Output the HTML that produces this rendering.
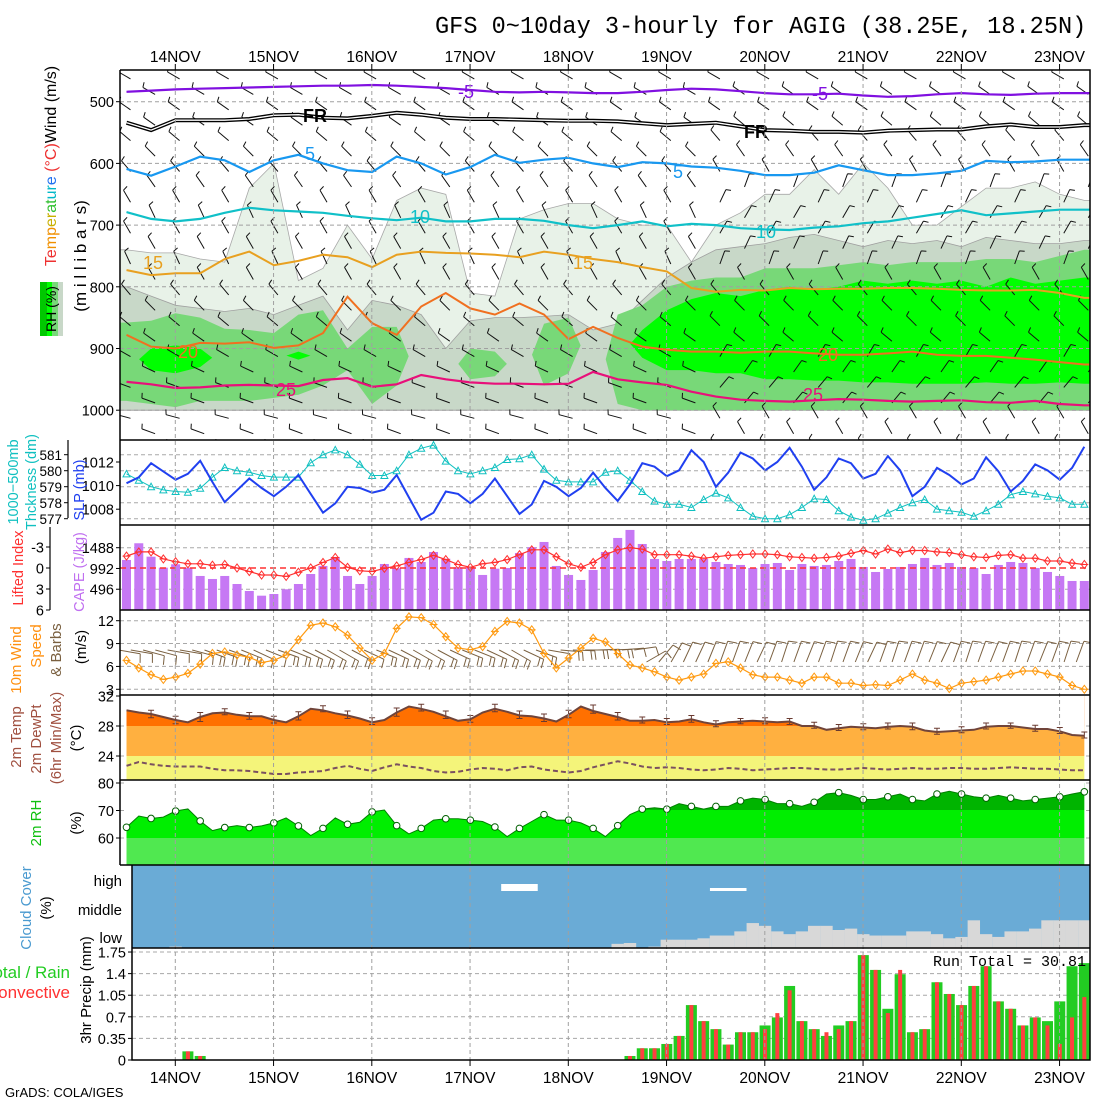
<!DOCTYPE html>
<html><head><meta charset="utf-8">
<style>
body{margin:0;background:#fff;width:1100px;height:1100px;overflow:hidden}
svg text{font-family:"Liberation Sans",sans-serif}
</style></head>
<body>
<svg id="chart" width="1100" height="1100" viewBox="0 0 1100 1100" xmlns="http://www.w3.org/2000/svg">
<defs>
<clipPath id="c1"><rect x="120" y="70" width="970" height="370"/></clipPath>
<clipPath id="c2"><rect x="120" y="440" width="970" height="85"/></clipPath>
<clipPath id="c4"><rect x="120" y="610" width="970" height="85"/></clipPath>
</defs>
<rect width="1100" height="1100" fill="#fff"/>
<text x="435" y="33" style="font-family:'Liberation Mono',monospace;font-size:23.6px">GFS 0~10day 3-hourly for AGIG (38.25E, 18.25N)</text>
<g id="root"></g>
<g font-size="15">
<text transform="translate(56,166) rotate(-90)" text-anchor="middle" font-size="16"><tspan fill="#ee3030">Te</tspan><tspan fill="#f09000">mp</tspan><tspan fill="#c8b000">er</tspan><tspan fill="#30c030">at</tspan><tspan fill="#00b8c8">ur</tspan><tspan fill="#2070f0">e</tspan><tspan fill="#ee3030"> (°C)</tspan><tspan fill="#000">Wind (m/s)</tspan></text>
<text transform="translate(86,256) rotate(-90)" text-anchor="middle" font-size="17">(m i l l i b a r s)</text>
<rect x="40" y="282" width="7" height="54" fill="#00c800"/>
<rect x="47" y="282" width="5" height="54" fill="#00ff00"/>
<rect x="52" y="282" width="6" height="54" fill="#78d878"/>
<rect x="58" y="282" width="5" height="54" fill="#c8d8c8"/>
<text transform="translate(56,309) rotate(-90)" text-anchor="middle" font-size="14">RH (%)</text>
<text transform="translate(18,482) rotate(-90)" text-anchor="middle" fill="#10c0c0" font-size="14.5">1000−500mb</text>
<text transform="translate(36,482) rotate(-90)" text-anchor="middle" fill="#10c0c0" font-size="14.5">Thckness (dm)</text>
<text transform="translate(84,490) rotate(-90)" text-anchor="middle" fill="#2040f0" font-size="14.5">SLP (mb)</text>
<text transform="translate(23,568) rotate(-90)" text-anchor="middle" fill="#ff3030" font-size="14.5">Lifted Index</text>
<text transform="translate(84,572) rotate(-90)" text-anchor="middle" fill="#c070f0" font-size="14.5">CAPE (J/kg)</text>
<text transform="translate(21,660) rotate(-90)" text-anchor="middle" fill="#ff9010">10m Wind</text>
<text transform="translate(41,646) rotate(-90)" text-anchor="middle" fill="#ff9010">Speed</text>
<text transform="translate(61,650) rotate(-90)" text-anchor="middle" fill="#7a6040">&amp; Barbs</text>
<text transform="translate(86,647) rotate(-90)" text-anchor="middle">(m/s)</text>
<text transform="translate(21,737) rotate(-90)" text-anchor="middle" fill="#a05040">2m Temp</text>
<text transform="translate(41,739) rotate(-90)" text-anchor="middle" fill="#a05040">2m DewPt</text>
<text transform="translate(61,738) rotate(-90)" text-anchor="middle" fill="#a05040">(6hr Min/Max)</text>
<text transform="translate(81,738) rotate(-90)" text-anchor="middle">(°C)</text>
<text transform="translate(41,823) rotate(-90)" text-anchor="middle" fill="#10c010">2m RH</text>
<text transform="translate(81,823) rotate(-90)" text-anchor="middle">(%)</text>
<text transform="translate(31,908) rotate(-90)" text-anchor="middle" fill="#4a9ad0">Cloud Cover</text>
<text transform="translate(51,908) rotate(-90)" text-anchor="middle">(%)</text>
<text x="70" y="978" text-anchor="end" fill="#22cc22" font-size="17">Total / Rain</text>
<text x="70" y="998" text-anchor="end" fill="#ff3030" font-size="17">Convective</text>
<text transform="translate(91,990) rotate(-90)" text-anchor="middle">3hr Precip (mm)</text>
<text x="122" y="886" text-anchor="end" font-size="15">high</text>
<text x="122" y="915" text-anchor="end" font-size="15">middle</text>
<text x="122" y="943" text-anchor="end" font-size="15">low</text>
<text x="1086" y="966" text-anchor="end" font-size="15" style="font-family:'Liberation Mono',monospace">Run Total = 30.81</text>
<text x="5" y="1097" font-size="13">GrADS: COLA/IGES</text>
</g>
</svg>
<script>
// ---------- data (3-hourly, 13NOV12Z .. 23NOV06Z) ----------
const dayLabels = ['14NOV','15NOV','16NOV','17NOV','18NOV','19NOV','20NOV','21NOV','22NOV','23NOV'];
const slp = [1010.2,1010.7,1011.9,1011.2,1010.5,1011.0,1012.1,1010.3,1008.6,1009.6,1010.6,1009.8,1009.1,1009.9,1010.9,1009.3,1007.7,1008.5,1009.9,1009.8,1009.4,
1009.65,1010.9,1009.0,1007.1,1007.7,1009.5,1009.3,1008.5,1009.3,1010.6,1009.1,1007.6,1008.4,1010.4,1009.9,1009.1,1009.8,1011.1,1009.8,1008.7,1010.1,1011.9,1011.6,1010.8,1011.3,1013.0,1012.0,1009.9,1011.1,1012.8,1012.3,1011.3,1012.0,1013.2,1011.6,1009.65,1010.7,1012.3,1011.9,1010.6,1011.0,1012.5,1011.3,1009.1,1009.9,1011.5,1010.9,1010.1,1010.6,1012.4,1011.2,1009.5,1010.4,1011.8,1011.3,1010.5,1011.5,1013.3];
const thickness = [579.8,579.4,579.0,578.8,578.7,578.65,578.9,579.6,580.2,580.0,579.9,579.7,579.6,579.6,579.6,580.5,581.0,581.3,581.0,580.4,579.7,
579.7,580.0,581.0,581.4,581.6,580.6,580.0,579.8,580.0,580.2,580.7,580.75,581.0,580.1,579.4,579.3,579.3,579.3,579.9,580.0,579.4,578.7,578.1,577.9,577.9,577.7,578.2,578.6,578.3,577.7,577.15,577.0,577.0,577.25,577.7,578.25,578.2,577.5,577.1,576.9,577.0,577.35,577.7,578.0,578.2,577.6,577.5,577.4,577.15,577.5,577.9,578.5,578.7,578.55,578.4,578.3,577.9,577.9];
const cape = [1195,1594,1274,1011,1092,1011,813,741,813,621,454,342,382,495,621,860,1052,1267,813,621,813,
1099,997,1243,1147,1386,1226,1021,1021,837,987,1004,1362,1499,1625,1052,837,717,956,1386,1721,1912,1577,1219,1171,1219,1219,1219,1147,1099,1076,1004,1099,1123,956,1099,1052,1076,1171,1219,1028,908,980,1028,1099,1243,1076,1123,1028,1004,860,1076,1147,1123,1004,908,813,693,693];
const liftedIndex = [-1.7,-2.3,-2.3,-1.3,-0.9,-0.6,-0.6,-0.4,-0.5,0,0.5,1,1.0,1.2,0.6,0,-0.8,-1.5,-0.1,0.4,0.5,
0.05,-0.3,-0.8,-1.2,-1.8,-1.2,-0.5,-0.1,-0.6,-0.8,-1.2,-1.9,-2.6,-2.6,-1.6,-0.6,-0.1,-0.8,-1.9,-2.6,-2.9,-2.7,-1.9,-1.9,-1.9,-1.7,-1.4,-1.6,-1.8,-1.9,-2,-2,-1.9,-1.6,-1.5,-1.4,-1.5,-1.7,-2.1,-2.5,-2,-2.7,-2.2,-2.5,-2.5,-2.3,-2.2,-1.9,-1.6,-1.5,-1.8,-1.9,-1.4,-1.4,-1.0,-1.0,-0.7,-0.5];
const wind10 = [6.8,5.8,4.9,4.3,4.6,5.1,6.3,7.7,7.9,7.5,7.2,6.5,6.8,7.5,9.5,11.4,11.7,11.2,10.1,8.4,6.8,7.7,11.0,12.5,12.4,11.5,9.9,8.4,8.2,8.6,10.6,11.9,11.7,10.8,7.7,5.8,7.1,8.4,9.7,9.2,7.7,6.2,5.8,5.3,4.6,4.2,4.6,5.0,6.4,6.6,5.8,4.9,4.6,4.6,4.2,3.8,4.6,4.6,3.8,3.8,3.5,3.6,3.5,4.2,5.0,4.2,3.8,3.1,3.8,4.0,4.2,4.6,5.0,5.4,5.4,5.0,4.6,3.5,3.0];
const wdir10 = [100,100,105,105,100,100,105,110,110,110,112,115,112,110,112,115,118,120,120,118,115,112,115,118,120,120,118,115,112,112,115,118,120,115,110,100,95,92,90,88,88,85,82,60,40,30,25,25,22,20,20,22,25,20,18,20,22,20,18,20,22,25,20,18,20,20,22,25,20,18,20,22,20,18,20,22,20,18,20];
const temp2m = [30.1,29.8,29.6,29.2,28.8,28.5,29.2,29.7,29.8,29.5,29.3,29.3,28.8,28.5,29.3,30.3,30.1,29.7,29.4,29.0,28.5,28.8,29.8,30.6,30.3,29.9,29.3,28.7,28.9,29.8,30.3,29.9,29.4,29.3,29.0,28.6,29.5,30.6,30.0,29.6,29.2,28.7,28.7,28.8,28.5,28.6,28.9,28.5,28.2,28.5,28.6,28.7,28.6,28.5,28.6,28.0,28.0,27.5,27.7,27.9,27.8,27.7,27.9,28.0,27.9,27.4,27.2,27.3,27.4,27.5,27.9,28.0,28.0,27.8,27.6,27.6,27.3,26.8,26.7];
const dew2m = [22.7,23.2,22.9,22.7,22.6,22.6,22.6,22.3,22.1,22.1,22.0,21.8,21.6,21.6,21.8,21.9,22.0,22.4,22.7,22.3,22.0,22.5,22.9,22.6,22.4,22.0,21.8,21.9,22.2,22.4,22.3,22.1,22.5,22.6,22.2,22.0,21.8,22.0,22.5,22.9,23.3,23.0,22.6,22.4,22.5,22.4,22.2,22.1,22.2,22.4,22.3,22.1,22.2,22.3,22.4,22.4,22.3,22.2,22.2,22.3,22.4,22.3,22.2,22.3,22.4,22.3,22.3,22.4,22.4,22.3,22.3,22.4,22.5,22.4,22.3,22.3,22.2,22.1,22.1];
const tMax6 = [30.1,29.3,29.8,30.3,29.8,29.3,29.9,30.7,30.0,29.1,30.4,30.9,30.0,29.4,30.9,30.0,29.6,30.1,30.8,29.8,29.2,29.0,29.4,28.7,29.0,29.1,29.0,28.5,28.2,28.3,28.4,28.4,27.7,27.9,28.4,28.4,28.1,27.8,27.2];
const tMin6 = [29.1,28.3,28.6,29.5,28.9,28.4,28.8,29.9,29.0,28.2,29.3,30.0,29.0,28.5,29.9,29.0,28.6,29.1,29.7,28.8,28.4,28.2,28.5,27.9,28.3,28.3,28.2,27.7,27.4,27.5,27.6,27.5,26.9,27.1,27.6,27.7,27.3,27.0,26.4];
const rh2m = [63.9,68.0,67.1,67.6,69.8,70.6,66.2,62.7,63.8,64.5,63.8,64.4,65.5,67.3,64.4,60.9,63.5,67.3,65.0,65.7,69.5,70.2,64.5,
61.5,63.5,66.5,67,67,66.5,66,64,60.5,63.5,66,68.5,66.5,66.5,65.5,63.5,60.5,64.5,68.5,70.5,71,70.5,72.5,71.5,70.5,71.5,71.5,73.5,74.5,74,72.5,72.5,71.5,73,76,76.5,75.5,74,74,75,76,74,73.5,76,77,76,75,74.5,75.5,74.5,73.5,74,74.5,75,76,76.8];
const lowCloud = [0,0,0,0,5,0,0,0,0,0,0,0,0,0,0,0,0,0,0,0,0,0,0,0,0,0,0,0,0,0,0,0,0,0,0,0,0,0,0,0,15,18,0,5,30,30,30,35,45,45,60,90,80,60,50,60,80,80,65,70,50,45,45,45,60,60,50,35,40,100,50,40,60,60,70,100,100,100,100];
const highGapStart = [31,48];
const highGapEnd = [33,50];
const precipTotal = [0,0,0,0,0,0.14,0.065,0,0,0,0,0,0,0,0,0,0,0,0,0,0,0,0,0,0,0,0,0,0,0,0,0,0,0,0,0,0,0,0,0,0,0.065,0.19,0.19,0.26,0.39,0.89,0.63,0.50,0.25,0.45,0.45,0.56,0.69,1.2,0.63,0.50,0.39,0.56,0.63,1.70,1.46,0.83,1.39,0.45,0.50,1.26,1.07,0.89,1.2,1.52,0.95,0.83,0.56,0.69,0.63,0.95,1.52,1.57];
const precipConv = [0,0,0,0,0,0.14,0.065,0,0,0,0,0,0,0,0,0,0,0,0,0,0,0,0,0,0,0,0,0,0,0,0,0,0,0,0,0,0,0,0,0,0,0.065,0.19,0.19,0.26,0.39,0.89,0.63,0.50,0.25,0.45,0.45,0.50,0.76,1.13,0.63,0.50,0.45,0.50,0.63,1.70,1.46,0.76,1.46,0.45,0.50,1.26,1.07,0.89,1.2,1.52,0.95,0.83,0.56,0.69,0.56,0.26,0.69,1.02];
// upper-air (6-hourly columns), pressures in mb
const rh30Top = [740,745,745,755,760,640,600,790,770,700,755,660,640,650,810,815,690,675,665,665,690,700,700,760,700,680,650,650,610,650,600,640,700,700,670,640,640,630,650,660];
const rh50Top = [800,815,830,835,840,835,845,830,815,870,822,830,845,900,855,850,850,848,845,870,860,822,785,760,740,735,730,720,715,725,735,725,730,725,735,720,725,730,730,725];
const rh70Top = [858,855,843,850,868,870,875,845,838,900,865,865,null,null,900,905,null,860,850,null,845,830,800,790,785,785,770,770,770,765,760,765,760,760,760,755,755,760,750,740];
const rh70Bot = [985,990,995,985,985,985,980,975,960,935,990,960,null,null,950,945,null,960,940,null,990,1000,1000,1000,1000,1000,1000,1000,1000,1000,1000,1000,1000,1000,1000,1000,1000,1000,1000,1000];
const rh90Top = [null,900,895,900,null,null,null,905,null,null,null,null,null,null,null,null,null,null,null,null,null,870,838,820,810,815,805,800,805,800,790,795,790,795,790,800,785,795,790,785];
const rh90Bot = [null,935,940,930,null,null,null,918,null,null,null,null,null,null,null,null,null,null,null,null,null,915,935,935,940,940,950,950,952,952,955,955,957,957,957,955,957,957,955,957];
const isoM5 = [484,482,480,479,478,477,476,475,474,474,473,474,476,478,481,484,485,484,485,486,486,484,481,479,480,483,486,488,488,487,490,492,491,488,486,488,489,487,486,486];
const isoFR = [534,546,530,530,530,528,522,521,526,527,523,518,521,526,528,528,529,530,531,531,532,535,538,536,534,540,546,547,549,549,550,547,546,545,545,540,537,541,541,538];
const iso5 = [609,620,605,589,595,614,595,586,600,611,614,589,600,618,606,586,599,594,591,600,606,598,600,605,607,612,619,619,615,603,611,619,619,616,612,596,598,597,594,594];
const iso10 = [679,690,694,690,680,672,676,678,680,685,689,692,688,694,694,690,690,693,700,705,700,694,702,698,700,705,707,708,704,702,697,694,688,682,676,684,681,678,675,675];
const iso15 = [773,781,778,778,755,743,765,758,748,752,768,748,743,745,746,748,752,743,748,755,760,768,775,802,808,805,806,802,804,803,803,802,802,803,805,806,806,805,810,818];
const iso20 = [878,897,900,891,892,890,899,895,875,816,859,878,832,810,835,845,827,845,885,865,883,897,902,905,905,907,905,905,908,910,910,908,905,910,912,912,915,918,922,926];
const iso25 = [954,958,964,963,960,959,960,961,951,948,962,958,943,950,955,957,957,958,957,938,950,955,959,970,978,983,985,986,984,982,983,985,986,985,984,987,988,985,990,992];
const barbRowsP = [455,480,505,530,555,580,605,630,655,680,705,730,755,780,805,830,855,880,905,930,955,980,1005,1030,1055];
const barbDirEarly = [300,300,305,305,310,315,320,325,330,335,330,330,335,330,320,315,310,305,300,295,290,290,285,290,290];
const barbDirLate = [300,305,305,310,320,325,330,20,25,30,30,25,20,330,320,315,315,310,30,35,40,40,330,330,320];

// ---------- scales ----------
const NS='http://www.w3.org/2000/svg';
const root=document.getElementById('root');
const X=i=>126.5+12.28*i;
const XK=k=>126.5+24.56*k;
const DAYX=d=>175.3+98.25*d;
const PY=p=>101.7+(p-500)*0.617;
const SLPY=v=>462-(v-1012)*11.8;
const THY=v=>454.7-(v-581)*16;
const CAPEY=v=>610-v/1488*62.3;
const LIY=v=>568+v*7;
const WSY=v=>620.7-(v-12)*7.62;
const TY=v=>726-(v-28)*7.5;
const RHY=v=>783+(80-v)*2.75;
const PRY=v=>1060-v*61.7;
function mk(parent,tag,attrs){const e=document.createElementNS(NS,tag);for(const k in attrs)e.setAttribute(k,attrs[k]);parent.appendChild(e);return e;}
function grp(name,clip){const g=mk(root,'g',clip?{'clip-path':'url(#'+clip+')'}:{});


return g;}
const pth=pts=>'M'+pts.map(p=>p[0].toFixed(1)+','+p[1].toFixed(1)).join('L');

// ---------- panel 1: RH shading ----------
function bands(g,top,bot,fill,stroke,name){
  let run=[];
  const flush=()=>{ if(!run.length) return;
    const a=run[0],b=run[run.length-1];
    const pts=[];
    const t0=top[a],b0=bot?bot[a]:1000,t1=top[b],b1=bot?bot[b]:1000;
    if(a>0) pts.push([XK(a)-12,PY((t0+b0)/2)]); else pts.push([XK(a)-8,PY(t0)]);
    run.forEach(k=>pts.push([XK(k),PY(top[k])]));
    if(b<39) pts.push([XK(b)+12,PY((t1+b1)/2)]); else pts.push([XK(b)+8,PY(t1)]);
    if(b===39) pts.push([XK(b)+8,PY(b1)]);
    for(let j=run.length-1;j>=0;j--) pts.push([XK(run[j]),PY(bot?bot[run[j]]:1000)]);
    if(a===0) pts.push([XK(a)-8,PY(b0)]);
    const e=mk(g,'path',{d:pth(pts)+'Z',fill:fill,stroke:stroke,'stroke-width':0.8});
    
    
    run=[];};
  top.forEach((v,k)=>{ if(v===null) flush(); else run.push(k); });
  flush();
}
const gRH=grp('rh-shading','c1');
bands(gRH,rh30Top,null,'#e8f2e8','#a8a8a8','rh-30-area');
bands(gRH,rh50Top,null,'#c8d8c8','#a0a0a0','rh-50-area');
bands(gRH,rh70Top,rh70Bot,'#78d878','none','rh-70-area');
bands(gRH,rh90Top,rh90Bot,'#00ff00','none','rh-90-area');

// grids
const gGrid=grp('gridlines');
[500,600,700,800,900,1000].forEach(p=>{const e=mk(gGrid,'line',{x1:120,x2:1090,y1:PY(p),y2:PY(p),stroke:'#a0a0a0','stroke-dasharray':'4,3'});

});
const hgrid=[[577,THY],[578,THY],[579,THY],[580,THY],[581,THY],[1488,CAPEY],[496,CAPEY],[12,WSY],[9,WSY],[6,WSY],[3,WSY],[28,TY],[24,TY],[80,RHY],[70,RHY],[60,RHY],[1.75,PRY],[1.4,PRY],[1.05,PRY],[0.7,PRY],[0.35,PRY]];
hgrid.forEach(([v,f])=>{const x0=f===PRY?132:120;const e=mk(gGrid,'line',{x1:x0,x2:1090,y1:f(v),y2:f(v),stroke:'#a8a8a8','stroke-dasharray':'4,3'});

});

// barbs
function barb(g,x,y,dir,len,nf,color,name,fl){
  const r=dir*Math.PI/180, sx=Math.sin(r), sy=-Math.cos(r);
  const tx=x+sx*len, ty=y+sy*len, px=-sy, py=sx;
  let d=`M${x.toFixed(1)},${y.toFixed(1)}L${tx.toFixed(1)},${ty.toFixed(1)}`;
  for(let f=0;f<nf;f++){const bx=tx-sx*f*4, by=ty-sy*f*4;
    d+=`M${bx.toFixed(1)},${by.toFixed(1)}L${(bx+px*fl+sx*1.5).toFixed(1)},${(by+py*fl+sy*1.5).toFixed(1)}`;}
  const e=mk(g,'path',{d:d,stroke:color,'stroke-width':1,fill:'none'});
  
  
}
const gB1=grp('upper-wind-barbs','c1');
barbRowsP.forEach((p,r)=>{for(let k=(r%2);k<40;k+=2){const dir=k<24?barbDirEarly[r]:barbDirLate[r];barb(gB1,XK(k)+4,PY(p)+5,dir,14,1,'#111','upper-wind-barb',5);}});

// isotherms
const gIso=grp('isotherms','c1');
function iso(arr,color,w,name){const pts=arr.map((p,k)=>[XK(k),PY(p)]);pts.push([1092,PY(arr[39])]);
const e=mk(gIso,'path',{d:pth(pts),stroke:color,'stroke-width':w,fill:'none'});


return pts;}
iso(isoM5,'#8010e0',2.2,'isotherm-minus5');
iso(isoFR,'#000',4,'isotherm-freezing');
iso(isoFR,'#fff',1.3,'isotherm-freezing-inner');
iso(iso5,'#1898f0',2.2,'isotherm-5');
iso(iso10,'#10c0c8',2.2,'isotherm-10');
iso(iso15,'#e8a020',2,'isotherm-15');
iso(iso20,'#f07020',2,'isotherm-20');
iso(iso25,'#e8107a',2.2,'isotherm-25');
const isoLabels=[['-5',458,98,'#8010e0'],['-5',812,100,'#8010e0'],['FR',303,122,'#000'],['FR',744,138,'#000'],['5',305,160,'#1898f0'],['5',673,178,'#1898f0'],['10',410,223,'#10c0c8'],['10',756,238,'#10c0c8'],['15',143,269,'#e8a020'],['15',573,269,'#e8a020'],['20',178,358,'#f07020'],['20',818,361,'#f07020'],['25',276,396,'#e8107a'],['25',803,401,'#e8107a']];
isoLabels.forEach(([t,x,y,c])=>{const e=mk(gIso,'text',{x:x,y:y,fill:c,'font-size':18,'font-weight':t==='FR'?'bold':'normal'});e.textContent=t;

});

// ---------- panel 2 ----------
const g2=grp('slp-thickness-panel','c2');
const thP=thickness.map((v,i)=>[X(i),THY(v)]);
let e=mk(g2,'path',{d:pth(thP),stroke:'#10c0c0','stroke-width':1,fill:'none'});


thP.forEach(p=>{const t=mk(g2,'path',{d:`M${p[0]-3.5},${p[1]+3}L${p[0]},${p[1]-3.5}L${p[0]+3.5},${p[1]+3}Z`,stroke:'#10c0c0',fill:'none','stroke-width':1});

});
e=mk(g2,'path',{d:pth(slp.map((v,i)=>[X(i),SLPY(v)])),stroke:'#2040f0','stroke-width':2,fill:'none'});



// ---------- panel 3 ----------
const g3=grp('cape-li-panel');
cape.forEach((v,i)=>{const b=mk(g3,'rect',{x:X(i)-4.5,y:CAPEY(v),width:9,height:610-CAPEY(v),fill:'#c678f4'});

});
e=mk(g3,'line',{x1:120,x2:1090,y1:LIY(0),y2:LIY(0),stroke:'#ff3030','stroke-width':1.5,'stroke-dasharray':'6,4'});


e=mk(g3,'path',{d:pth(liftedIndex.map((v,i)=>[X(i),LIY(v)])),stroke:'#ff3030','stroke-width':1.2,fill:'none'});


liftedIndex.forEach((v,i)=>{const x=X(i),y=LIY(v);const m=mk(g3,'path',{d:`M${x-3},${y}L${x},${y-4}L${x+3},${y}L${x},${y+4}ZM${x-4},${y}H${x+4}`,stroke:'#ff3030',fill:'none','stroke-width':1});

});

// ---------- panel 4 ----------
const g4=grp('wind10-panel','c4');
wind10.forEach((v,i)=>{const d=wdir10[i];const by=d>60?650:662;barb(g4,X(i)-8,by,d,22,v>7?2:1,'#7a6040','wind10-barb',9);});
e=mk(g4,'path',{d:pth(wind10.map((v,i)=>[X(i),WSY(v)])),stroke:'#ff9a10','stroke-width':1.2,fill:'none'});


wind10.forEach((v,i)=>{const x=X(i),y=WSY(v);const m=mk(g4,'path',{d:`M${x-3},${y}L${x},${y-4}L${x+3},${y}L${x},${y+4}ZM${x-4},${y}H${x+4}`,stroke:'#ff9a10',fill:'none','stroke-width':1});

});

// ---------- panel 5 ----------
const g5=grp('temp-panel');
[[696,726,'#ff7000'],[726,756,'#ffb040'],[756,780,'#f4f47a']].forEach(([a,b,c])=>{const r=mk(g5,'rect',{x:126.5,y:a,width:X(78)-126.5,height:b-a,fill:c});

});
const tP=temp2m.map((v,i)=>[X(i),TY(v)]);
e=mk(g5,'path',{d:pth([[126.5,696],...tP,[X(78),696]])+'Z',fill:'#fff'});


tMax6.forEach((v,j)=>{const x=X(2+2*j);const m=mk(g5,'path',{d:`M${x},${TY(v)}V${TY(tMin6[j])}M${x-3},${TY(v)}H${x+3}M${x-3},${TY(tMin6[j])}H${x+3}`,stroke:'#6a3a30','stroke-width':1});

});
e=mk(g5,'path',{d:pth(tP),stroke:'#70443a','stroke-width':2,fill:'none'});


e=mk(g5,'path',{d:pth(dew2m.map((v,i)=>[X(i),TY(v)])),stroke:'#7a5060','stroke-width':2,fill:'none','stroke-dasharray':'5,3'});



// ---------- panel 6 ----------
const g6=grp('rh2m-panel');
[[783,810,'#00b400'],[810,838,'#00ee00'],[838,865,'#50e850']].forEach(([a,b,c])=>{const r=mk(g6,'rect',{x:126.5,y:a,width:X(78)-126.5,height:b-a,fill:c});

});
const rP=rh2m.map((v,i)=>[X(i),RHY(v)]);
e=mk(g6,'path',{d:pth([[126.5,781],...rP,[X(78),781]])+'Z',fill:'#fff'});


e=mk(g6,'path',{d:pth(rP),stroke:'#008000','stroke-width':1,fill:'none'});


rP.forEach((p,i)=>{if(i%2)return;const c=mk(g6,'circle',{cx:p[0],cy:p[1],r:3.3,fill:'#fff',stroke:'#006000','stroke-width':1});

});

// ---------- cloud ----------
const g7=grp('cloud-panel');
e=mk(g7,'rect',{x:132,y:865,width:958,height:83,fill:'#6aabd6'});


highGapStart.forEach((s,j)=>{const r=mk(g7,'rect',{x:X(s)-6,y:j?888:884,width:X(highGapEnd[j])-X(s)+12,height:j?3:7,fill:'#fff'});

});
lowCloud.forEach((v,i)=>{if(!v)return;const h=v/100*27.7;const r=mk(g7,'rect',{x:X(i)-6.2,y:948-h,width:12.4,height:h,fill:'#d8d8d8'});

});

// ---------- precip ----------
const g8=grp('precip-panel');
precipTotal.forEach((v,i)=>{if(!v)return;const r=mk(g8,'rect',{x:X(i)-5.5,y:PRY(v),width:11,height:1060-PRY(v),fill:'#22cc22'});


const c=precipConv[i];const q=mk(g8,'rect',{x:X(i)-2,y:PRY(c),width:4,height:1060-PRY(c),fill:'#ff4040'});

});

// ---------- frames, day grid, ticks ----------
const gF=grp('frames');
dayLabels.forEach((t,d)=>{const x=DAYX(d);
const l=mk(gF,'line',{x1:x,x2:x,y1:70,y2:1060,stroke:'#a0a0a0','stroke-dasharray':'4,3'});


const tk=mk(gF,'path',{d:`M${x},64V70M${x},1060V1066`,stroke:'#000'});


const a=mk(gF,'text',{x:x,y:62,'text-anchor':'middle','font-size':15.5});a.textContent=t;


const b=mk(gF,'text',{x:x,y:1083,'text-anchor':'middle','font-size':15.5});b.textContent=t;

});
e=mk(gF,'path',{d:'M120,70H1090V1060H132V948M120,865V70M120,440H1090M120,525H1090M120,610H1090M120,695H1090M120,780H1090M120,865H1090M132,865V948M132,948H1090',stroke:'#000','stroke-width':1.5,fill:'none'});


e=mk(gF,'path',{d:'M68,440V518M50,527V610',stroke:'#000','stroke-width':1.2,fill:'none'});


function ytick(xr,y,t,name,fs){const tk=mk(gF,'line',{x1:xr+2,x2:xr+6,y1:y,y2:y,stroke:'#000'});


const tx=mk(gF,'text',{x:xr,y:y+5.5,'text-anchor':'end','font-size':fs||14.5});tx.textContent=t;

}
[500,600,700,800,900,1000].forEach(p=>ytick(114,PY(p),p,'pressure-axis'));
[577,578,579,580,581].forEach(v=>ytick(62,THY(v),v,'thickness-axis',13.5));
[1008,1010,1012].forEach(v=>ytick(114,SLPY(v),v,'slp-axis'));
[[-3,'-3'],[0,'0'],[3,'3'],[6,'6']].forEach(([v,t])=>ytick(44,LIY(v),t,'li-axis'));
[1488,992,496].forEach(v=>ytick(114,CAPEY(v),v,'cape-axis'));
[12,9,6,3].forEach(v=>ytick(114,WSY(v),v,'wind10-axis'));
[32,28,24].forEach(v=>ytick(114,TY(v),v,'temp-axis'));
[80,70,60].forEach(v=>ytick(114,RHY(v),v,'rh2m-axis'));
[[1.75,'1.75'],[1.4,'1.4'],[1.05,'1.05'],[0.7,'0.7'],[0.35,'0.35'],[0,'0']].forEach(([v,t])=>ytick(126,PRY(v),t,'precip-axis'));
</script>
</body></html>
